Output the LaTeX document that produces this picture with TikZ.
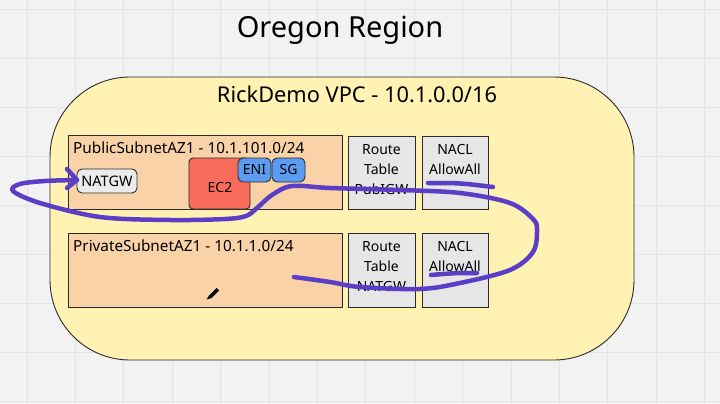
\documentclass[tikz,border=0pt]{standalone}
\usepackage{fontspec}
\setmainfont{Noto Sans}
\definecolor{bgc}{HTML}{F2F2F2}
\definecolor{gridc}{HTML}{E4E4E4}
\definecolor{vpcc}{HTML}{FFF2B3}
\definecolor{subc}{HTML}{F9D2A8}
\definecolor{grayc}{HTML}{E6E6E6}
\definecolor{lgrayc}{HTML}{EBEBEB}
\definecolor{ec2c}{HTML}{F96C5C}
\definecolor{bluec}{HTML}{5B9CF0}
\definecolor{penc}{HTML}{5A3EC6}
\definecolor{edgec}{HTML}{2B2B2B}
\tikzset{
  box/.style={draw=edgec, line width=0.9pt, inner sep=0pt},
  subnet/.style={box, fill=subc},
  graybox/.style={box, fill=grayc},
  boxtext/.style={font=\fontsize{14}{20}\selectfont, align=center, anchor=north, inner sep=0pt},
  chip/.style={box, rounded corners=5pt, font=\fontsize{14}{16}\selectfont},
  pen/.style={draw=penc, line width=4.5pt, line cap=round, line join=round},
  lbl/.style={anchor=west, inner sep=0pt, font=\fontsize{15.3}{17}\selectfont}
}
\begin{document}
\begin{tikzpicture}[x=1pt,y=-1pt]
\useasboundingbox (0,0) rectangle (720,404);
\fill[bgc] (0,0) rectangle (720,404);
\foreach \i in {0,...,14} \draw[gridc, line width=0.8pt] ({27+48.4*\i},0) -- ({27+48.4*\i},404);
\foreach \j in {0,...,8} \draw[gridc, line width=0.8pt] (0,{9+49*\j}) -- (720,{9+49*\j});
% title
\node[font=\fontsize{29}{34}\selectfont, inner sep=0pt] (title) at (340,30) {Oregon Region};
% VPC
\draw[fill=vpcc, draw=edgec, line width=0.9pt, rounded corners=80pt] (50,77) rectangle (634,360);
\node[font=\fontsize{21.8}{24}\selectfont, inner sep=0pt] (vpc) at (357,94) {RickDemo VPC - 10.1.0.0/16};
% subnets
\node[subnet, minimum width=274pt, minimum height=74pt] (pub) at (205,172) {};
\node[lbl] (pubt) at (73,148) {PublicSubnetAZ1 - 10.1.101.0/24};
\node[subnet, minimum width=274pt, minimum height=74pt] (priv) at (205,270) {};
\node[lbl] (privt) at (73,246) {PrivateSubnetAZ1 - 10.1.1.0/24};
% route tables & NACLs
\node[graybox, minimum width=67pt, minimum height=73pt] (rt1) at (381.5,172.5) {};
\node[graybox, minimum width=66pt, minimum height=73pt] (na1) at (455,172.5) {};
\node[graybox, minimum width=67pt, minimum height=74pt] (rt2) at (381.5,270) {};
\node[graybox, minimum width=66pt, minimum height=74pt] (na2) at (455,270) {};
\node[boxtext] (rt1t) at (381.5,144) {Route\\Table\\PubIGW};
\node[boxtext] (na1t) at (455,144) {NACL\\AllowAll};
\node[boxtext] (rt2t) at (381.5,241) {Route\\Table\\NATGW};
\node[boxtext] (na2t) at (455,241) {NACL\\AllowAll};
% resources
\node[chip, fill=lgrayc, minimum width=60pt, minimum height=24pt, font=\fontsize{14.5}{16}\selectfont] (nat) at (107,181) {NATGW};
\node[chip, fill=ec2c, rounded corners=4pt, minimum width=61pt, minimum height=51pt] (ec2) at (219.5,183.5) {};
\node[font=\fontsize{14}{16}\selectfont, inner sep=0pt] (ec2t) at (220,188) {EC2};
\node[chip, fill=bluec, minimum width=33pt, minimum height=24pt] (eni) at (254.5,170) {ENI};
\node[chip, fill=bluec, minimum width=33pt, minimum height=24pt] (sg) at (288.5,170) {SG};
% pencil cursor
\fill[black] (216.5,288) -- (219,290.5) -- (211.5,298) -- (209,295.5) -- cycle;
\fill[black] (209,295.5) -- (211.5,298) -- (206.5,299.5) -- cycle;
% freehand annotation
\coordinate (tip) at (77,180);
\draw[pen] plot[smooth, tension=0.55] coordinates {(294,277) (330,282) (360,287) (420,289) (460,283) (510,270) (533,252) (537,230) (533,219) (510,203) (460,193) (400,190) (330,188) (292,186) (272,195) (257,208) (246,216) (225,219) (170,220) (100,217) (40,203) (13,191) (20,184) (45,181) (tip)};
\draw[pen] (67,169) -- (tip) -- (67,188);
\draw[pen] (428,183) .. controls (460,183) .. (493,187);
\draw[pen] (431,275) .. controls (455,273) .. (477,273);
\end{tikzpicture}
\end{document}
